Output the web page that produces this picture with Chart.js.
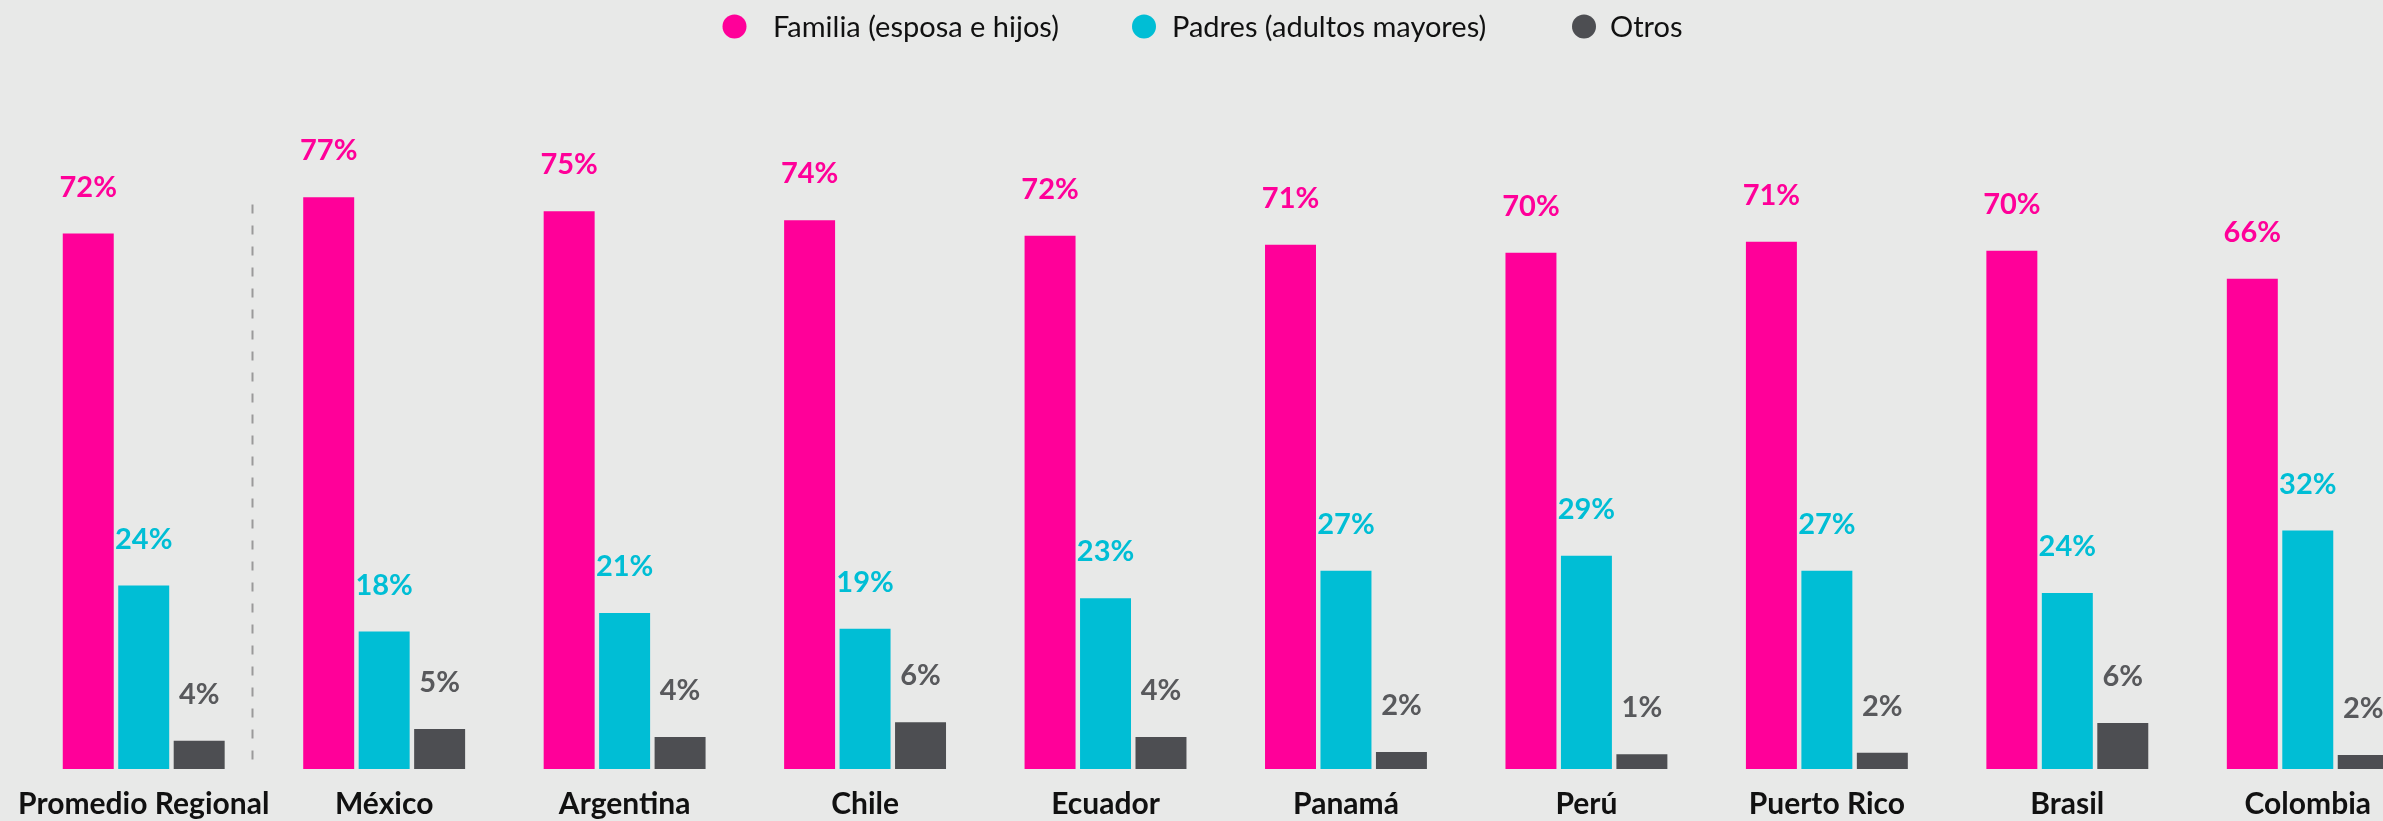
<!DOCTYPE html>
<html><head><meta charset="utf-8">
<script src="https://cdn.jsdelivr.net/npm/chart.js@4.4.1/dist/chart.umd.min.js"></script>
<style>
html,body{margin:0;padding:0;background:#e8e9e8;overflow:hidden;width:2383px;height:821px;}
#wrap{position:absolute;left:0;top:0;width:2440px;height:839px;}
</style></head><body>
<div id="wrap"><canvas id="c" width="2440" height="839"></canvas></div>
<script>
// ---- data ----
const categories = ['Promedio Regional','México','Argentina','Chile','Ecuador','Panamá','Perú','Puerto Rico','Brasil','Colombia'];
const seriesNames = ['Familia (esposa e hijos)','Padres (adultos mayores)','Otros'];
const familia = [72.1, 77.0, 75.1, 73.9, 71.8, 70.6, 69.5, 71.0, 69.8, 66.0];
const padres  = [24.7, 18.5, 21.0, 18.9, 23.0, 26.7, 28.7, 26.7, 23.7, 32.1];
const otros   = [3.8, 5.4, 4.3, 6.3, 4.3, 2.3, 2.0, 2.2, 6.2, 1.9];
const familiaLabels = [72, 77, 75, 74, 72, 71, 70, 71, 70, 66];
const padresLabels  = [24, 18, 21, 19, 23, 27, 29, 27, 24, 32];
const otrosLabels   = [4, 5, 4, 6, 4, 2, 1, 2, 6, 2];

// ---- styles ----
const barColors = ['#ff0099', '#00bed5', '#4d4e52'];
const labelColors = ['#ff0099', '#00bed5', '#58595c'];
const bg = '#e8e9e8';
const valueLabels = [familiaLabels, padresLabels, otrosLabels];
const legendDotX = [734.5, 1144, 1584];
const legendTextX = [773, 1172, 1610];
const legendY = 26.5;

const bgPlugin = {
  id: 'bg',
  beforeDraw(chart) {
    const ctx = chart.ctx;
    ctx.save(); ctx.fillStyle = bg; ctx.fillRect(0, 0, chart.width, chart.height); ctx.restore();
  }
};

const dividerPlugin = {
  id: 'divider',
  afterDatasetsDraw(chart) {
    const x = chart.scales.x, y = chart.scales.y;
    const x0 = x.getPixelForValue(0), x1 = x.getPixelForValue(1);
    const px = Math.round(x0 + 0.45 * (x1 - x0)) + 0.5;
    const ctx = chart.ctx;
    ctx.save();
    ctx.strokeStyle = '#9a9a9a';
    ctx.lineWidth = 2;
    ctx.setLineDash([9, 12]);
    ctx.beginPath();
    ctx.moveTo(px, y.getPixelForValue(76));
    ctx.lineTo(px, y.getPixelForValue(0));
    ctx.stroke();
    ctx.restore();
  }
};

const valuePlugin = {
  id: 'values',
  afterDatasetsDraw(chart) {
    const ctx = chart.ctx;
    ctx.save();
    ctx.font = 'bold 29px Lato';
    ctx.textAlign = 'center';
    ctx.textBaseline = 'alphabetic';
    chart.data.datasets.forEach((ds, di) => {
      const meta = chart.getDatasetMeta(di);
      ctx.fillStyle = labelColors[di];
      meta.data.forEach((el, i) => {
        ctx.fillText(valueLabels[di][i] + '%', el.x, el.y - 37);
      });
    });
    ctx.restore();
  }
};

const legendPlugin = {
  id: 'customLegend',
  afterDraw(chart) {
    const ctx = chart.ctx;
    ctx.save();
    ctx.font = '29px Lato';
    ctx.textBaseline = 'middle';
    ctx.textAlign = 'left';
    seriesNames.forEach((name, i) => {
      ctx.fillStyle = barColors[i];
      ctx.beginPath();
      ctx.arc(legendDotX[i], legendY, 12, 0, Math.PI * 2);
      ctx.fill();
      ctx.fillStyle = '#111111';
      ctx.fillText(name, legendTextX[i], legendY + 1);
    });
    ctx.restore();
  }
};

const topPad = 60;
const pxPerUnit = 7.416;
const yMax = (768 - topPad) / pxPerUnit;

new Chart(document.getElementById('c'), {
  type: 'bar',
  data: {
    labels: categories,
    datasets: [familia, padres, otros].map((d, i) => ({
      label: seriesNames[i],
      data: d,
      backgroundColor: barColors[i],
      borderWidth: 0,
      categoryPercentage: 0.692,
      barPercentage: 0.919
    }))
  },
  options: {
    responsive: false,
    animation: false,
    devicePixelRatio: 1,
    layout: { padding: { top: topPad, left: 22, right: 12, bottom: 0 } },
    plugins: { legend: { display: false }, tooltip: { enabled: false } },
    scales: {
      x: {
        grid: { display: false, drawTicks: false },
        border: { display: false },
        ticks: { color: '#111111', font: { family: 'Lato', weight: 'bold', size: 30 }, padding: 17, maxRotation: 0, autoSkip: false }
      },
      y: {
        display: false,
        min: 0,
        max: yMax
      }
    }
  },
  plugins: [bgPlugin, dividerPlugin, valuePlugin, legendPlugin]
});
</script>
</body></html>
